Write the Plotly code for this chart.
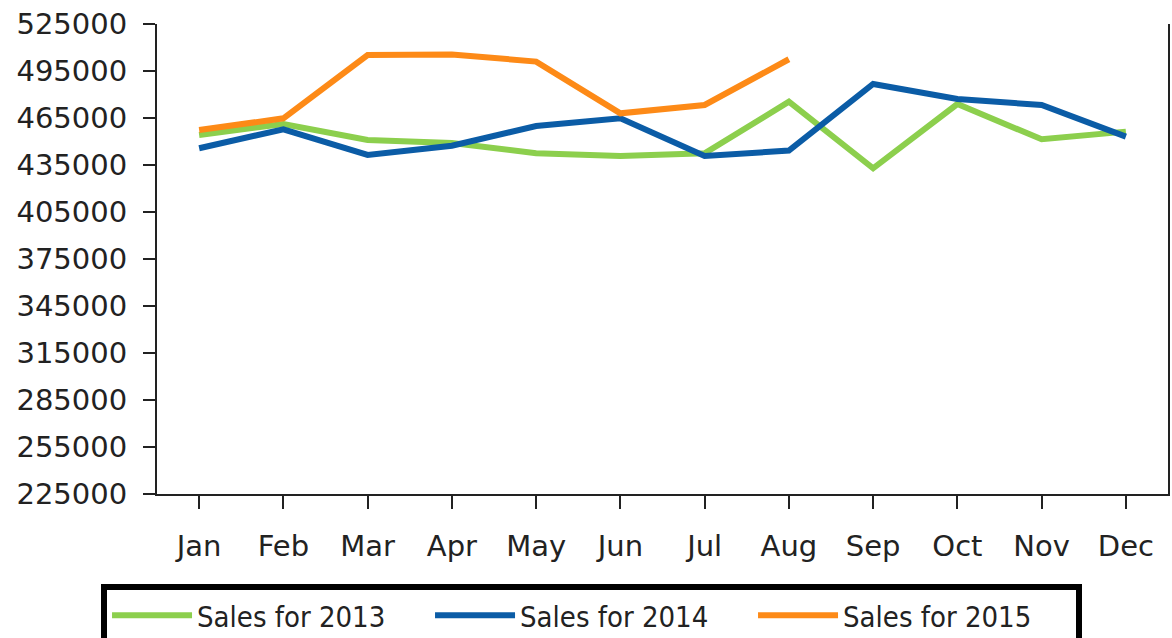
import plotly.graph_objects as go

months = ["Jan", "Feb", "Mar", "Apr", "May", "Jun", "Jul", "Aug", "Sep", "Oct", "Nov", "Dec"]
sales_2013 = [454200, 461200, 451000, 449000, 442500, 440700, 442500, 475400, 432900, 473900, 451400, 456300]
sales_2014 = [445700, 457800, 441400, 447300, 459900, 464800, 440700, 444200, 486700, 477100, 473300, 453100]
sales_2015 = [457300, 464800, 505200, 505600, 501000, 468000, 473300, 502500]
y_ticks = list(range(225000, 525001, 30000))

series = [
    ("Sales for 2013", sales_2013, "#8ccf4d"),
    ("Sales for 2014", sales_2014, "#0b5ca6"),
    ("Sales for 2015", sales_2015, "#fd8a17"),
]

fig = go.Figure()
for name, vals, color in series:
    fig.add_trace(go.Scatter(
        x=months[:len(vals)], y=vals, name=name, mode="lines",
        line=dict(color=color, width=6),
    ))

font_main = "DejaVu Sans, Verdana, sans-serif"
fig.update_layout(
    width=1172, height=638,
    margin=dict(l=157, r=4, t=24, b=144, autoexpand=False),
    plot_bgcolor="white", paper_bgcolor="white",
    font=dict(family=font_main, size=29, color="#222222"),
    showlegend=True,
    legend=dict(
        orientation="h", x=0.4298, xanchor="center", y=-0.1915, yanchor="top",
        bordercolor="black", borderwidth=6,
        font=dict(family="DejaVu Sans Condensed, Liberation Sans Narrow, DejaVu Sans", size=29, color="#222222"),
        entrywidth=228, itemwidth=80,
    ),
    xaxis=dict(
        type="category", categoryorder="array", categoryarray=months,
        range=[-0.5, 11.5],
        showline=True, linecolor="#222222", linewidth=2,
        ticks="outside", ticklen=13, tickwidth=2, tickcolor="#222222",
        showgrid=False, zeroline=False, ticklabelstandoff=12,
        ticklabeloverflow="allow",
    ),
    yaxis=dict(
        range=[225000, 525000], tickvals=y_ticks, ticktext=[str(v) for v in y_ticks],
        showline=True, linecolor="#222222", linewidth=2, mirror=True,
        ticks="outside", ticklen=12, tickwidth=2, tickcolor="#222222",
        showgrid=False, zeroline=False, ticklabelstandoff=10,
        ticklabeloverflow="allow",
    ),
)

fig.write_html(
    "out.html",
    config={"displayModeBar": False, "staticPlot": True},
    post_script="document.body.style.margin='0';document.body.style.overflow='hidden';",
)
